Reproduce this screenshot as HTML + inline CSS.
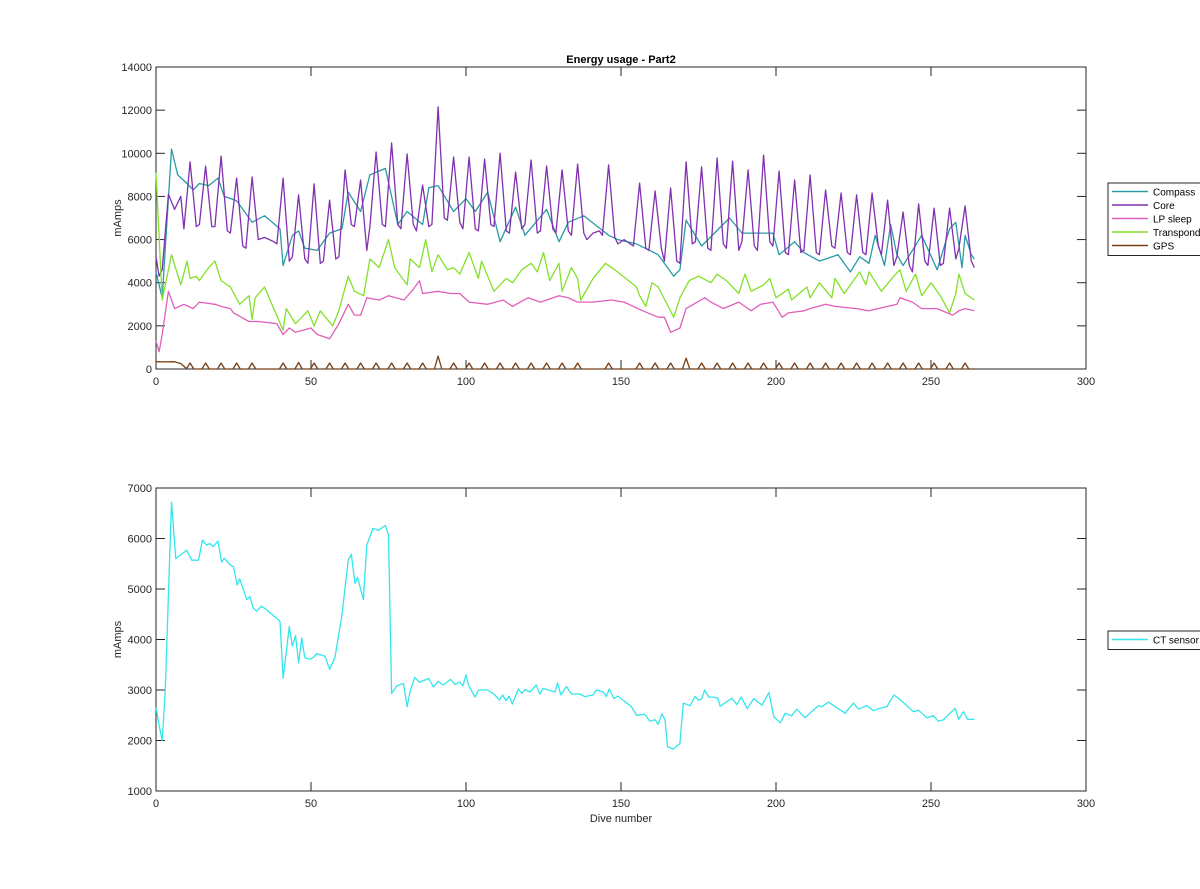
<!DOCTYPE html>
<html><head><meta charset="utf-8"><style>
body{margin:0;background:#fff;}
svg{display:block;font-family:"Liberation Sans",sans-serif;}
</style></head><body>
<svg id="fig" width="1200" height="889" viewBox="0 0 1200 889"></svg>
<script>
// ---- data ----
const coreX=[0,1,2,4,6,8,9,11,13,14,16,18,19,21,23,24,26,28,29,31,33,35,38,39,41,43,44,46,48,49,51,53,54,56,58,59,61,63,64,66,68,69,71,73,74,76,78,79,81,83,84,86,88,89,91,93,94,96,98,99,101,103,104,106,108,109,111,113,114,116,118,119,121,123,124,126,128,129,131,133,134,136,138,139,141,143,144,146,148,149,151,153,154,156,158,159,161,163,164,166,168,169,171,173,174,176,178,179,181,183,184,186,188,189,191,193,194,196,198,199,201,203,204,206,208,209,211,213,214,216,218,219,221,223,224,226,228,229,231,233,234,236,238,239,241,243,244,246,248,249,251,253,254,256,258,259,261,263,264];
const coreY=[5200,4300,4600,8100,7400,8000,6500,9600,6600,6700,9400,6600,6600,9870,6400,6300,8850,5700,5600,8900,6000,6100,5900,5800,8850,5000,5200,8070,5100,4900,8580,4900,5000,7830,5100,5200,9230,6700,6600,8760,5500,6600,10060,6700,6600,10480,6700,6500,9970,6700,6400,8530,6600,6700,12150,7000,6900,9830,6800,6500,9830,6500,6400,9730,6700,6600,10000,6400,6300,9130,6500,6700,9690,6300,6400,9410,6500,6300,9230,6400,6200,9500,6300,6000,6300,6400,6200,9460,6100,5800,6000,5800,5700,8620,5600,5500,8250,5600,5000,8390,5000,4900,9600,5800,5900,9370,5600,5500,9780,5800,5600,9640,5500,5900,9230,5700,5500,9920,5900,5700,9180,5400,5300,8760,5400,5500,9000,5400,5300,8300,5700,5600,8160,5400,5300,8070,5400,5300,8160,5700,5300,7830,4800,5200,7280,4800,4500,7650,5000,4800,7460,4800,4900,7460,5100,5600,7560,5000,4700];
const compassX=[0,2,5,7,10,12,14,17,20,22,26,31,35,40,41,44,46,48,52,56,60,62,66,69,74,78,81,86,88,91,96,100,103,107,111,116,119,126,130,133,138,146,149,155,162,167,169,171,176,185,189,194,199,201,206,209,214,220,224,227,230,232,235,237,239,241,247,252,256,258,260,261,263,264];
const compassY=[4500,3300,10200,9000,8600,8300,8600,8500,8850,8000,7800,6800,7100,6500,4800,6200,6400,5600,5500,6300,6500,8200,7300,9000,9300,6700,7300,6700,8400,8500,7300,7900,7300,8200,5900,7500,6200,7400,5900,6800,7100,6200,6000,5800,5300,4300,4600,6900,5700,7000,6300,6300,6300,5300,5900,5400,5000,5300,4500,5200,4900,6200,4800,6700,5300,4800,6200,4600,6500,6800,4700,6200,5300,5100];
const lpX=[0,1,2,4,6,9,12,14,19,21,24,25,30,33,39,41,43,45,50,52,56,59,62,64,66,68,72,75,80,83,85,86,91,95,98,101,107,112,115,120,124,130,133,136,141,147,151,157,162,164,166,169,171,177,179,183,188,192,195,199,202,204,209,211,216,219,226,230,236,239,240,244,247,252,257,259,261,264];
const lpY=[1300,800,1600,3600,2800,3000,2800,3100,3000,2900,2800,2600,2200,2200,2100,1600,1900,1700,1900,1600,1400,2100,3000,2500,2500,3300,3200,3400,3200,3700,4100,3500,3600,3500,3500,3100,3000,3200,2900,3300,3100,3400,3300,3100,3100,3200,3100,2700,2400,2400,1700,1900,2800,3300,3100,2800,3100,2700,3000,3100,2400,2600,2700,2800,3000,2900,2800,2700,2900,3000,3300,3100,2800,2800,2500,2700,2800,2700];
const trX=[0,2,5,8,10,11,13,14,17,19,21,24,27,30,31,32,35,41,42,45,49,51,53,57,59,62,64,67,69,72,75,77,81,82,85,87,89,91,94,96,98,101,104,105,109,113,115,118,121,123,125,127,130,131,134,136,137,141,145,148,155,156,158,160,162,167,169,172,175,179,181,184,188,190,192,196,198,200,204,205,210,211,214,218,219,222,227,229,230,234,238,240,242,245,247,250,253,256,258,259,261,264];
const trY=[9100,3200,5300,3900,5000,4200,4300,4100,4700,5000,4100,3800,3000,3400,2300,3300,3800,1800,2800,2100,2700,2000,2700,2000,2700,4300,3600,3400,5100,4700,6000,4700,3900,5100,4700,6000,4500,5300,4600,4700,4400,5400,4200,5000,3600,4200,4000,4600,4900,4500,5400,4100,4900,3600,4700,4200,3200,4200,4900,4600,3800,3400,2900,4000,3800,2400,3300,4100,4300,4000,4400,4100,3500,4400,3600,3900,4200,3300,3700,3200,3800,3300,4000,3300,4200,3500,4500,3900,4500,3600,4300,4600,3600,4400,3400,4000,3400,2600,3500,4400,3500,3200];
const gpsSpikeX=[11,16,21,26,31,41,46,51,56,61,66,71,76,81,86,91,96,101,106,111,116,121,126,131,136,146,156,161,166,171,176,181,186,191,196,201,206,211,216,221,226,231,236,241,246,251,256,261];
const gpsSpikeY=[280,280,280,280,280,280,300,280,280,280,280,280,280,280,280,600,280,280,280,280,280,280,280,280,280,280,280,280,280,500,280,280,280,280,280,280,280,280,280,280,280,280,280,280,280,280,280,280];
const gpsStartX=[0,3,6,8,10];
const gpsStartY=[340,330,340,250,0];
const ctX=[0,1,2,3,5,6.4,9.9,11.5,13.7,15,16.3,17.4,18.5,20,21.2,22,23.9,25,26.2,27,29.3,30.3,31.4,32.5,34,35.7,40,41,43,44,45,46,47,48,49.7,50.8,51.8,54.5,56,57.7,60,62,63,64.2,65,66.9,68,70,71.7,74,75,76,77.6,79.8,81,82,83.5,85,88,89.5,91,92.7,95,96.5,98,99,100,100.7,102.9,104,107,109,110.8,111.8,112.9,113.9,114.9,116.9,118,119,120.6,122.7,123.8,124.9,128.7,129.5,130.6,132.4,134,136.7,138.3,141,142,144.3,145.3,146.2,147.7,149,153.4,155,157.7,159.3,161,162,163.2,164.2,165,166.9,169,170.1,172.3,173.9,175,176,177,178.3,179.9,181.2,182,185.8,187.4,188.8,190.7,192.8,195.5,197.7,199.3,201.4,203,205,206.7,209.4,212,213.7,214.8,216.9,219.6,222.3,225,226.6,229.3,231.5,233.6,235.8,236.8,238.1,240.6,244.3,246,248.6,250.8,252.4,254,257.8,258.9,260.5,261.8,264];
const ctY=[2650,2300,2000,3000,6720,5600,5770,5570,5570,5970,5870,5900,5840,5950,5530,5610,5480,5440,5080,5200,4790,4850,4620,4560,4660,4590,4360,3230,4260,3870,4080,3540,4030,3640,3610,3650,3720,3670,3410,3640,4490,5570,5690,5110,5230,4790,5870,6200,6160,6260,6070,2930,3080,3130,2670,2980,3250,3150,3230,3060,3170,3100,3210,3110,3160,3080,3300,3110,2860,3000,3000,2920,2800,2900,2790,2880,2720,3020,2930,3010,2960,3100,2920,3030,2960,3140,2900,3070,2920,2920,2870,2900,3000,2960,2870,3020,2830,2880,2670,2500,2520,2380,2410,2320,2530,2410,1880,1830,1940,2740,2690,2870,2800,2820,3000,2860,2860,2840,2680,2840,2710,2860,2630,2830,2700,2950,2470,2350,2540,2490,2620,2450,2600,2690,2670,2760,2650,2540,2740,2620,2690,2590,2640,2670,2780,2900,2780,2570,2600,2450,2490,2380,2410,2640,2420,2570,2420,2420];
const xTicks=[0,50,100,150,200,250,300];
const topYTicks=[0,2000,4000,6000,8000,10000,12000,14000];
const botYTicks=[1000,2000,3000,4000,5000,6000,7000];

// ---- layout ----
const NS='http://www.w3.org/2000/svg';
const svg=document.getElementById('fig');
function mk(tag,attrs,parent){const e=document.createElementNS(NS,tag);for(const k in attrs)e.setAttribute(k,attrs[k]);(parent||svg).appendChild(e);return e;}
const X0=156,X1=1086;
function xs(v){return X0+(v-0)/(300-0)*(X1-X0);}
const topAx={y0:369,y1:67,min:0,max:14000};
const botAx={y0:791,y1:488,min:1000,max:7000};
function ys(ax,v){return ax.y0-(v-ax.min)/(ax.max-ax.min)*(ax.y0-ax.y1);}

function axes(ax,yt,name){
  const g=mk('g',{});
  
  
  const r=mk('rect',{x:X0,y:ax.y1,width:X1-X0,height:ax.y0-ax.y1,fill:'#fff',stroke:'#262626','stroke-width':1},g);
  
  
  xTicks.forEach(t=>{
    const x=xs(t);
    mk('line',{x1:x,x2:x,y1:ax.y0,y2:ax.y0-9,stroke:'#262626'},g);
    mk('line',{x1:x,x2:x,y1:ax.y1,y2:ax.y1+9,stroke:'#262626'},g);
    const tx=mk('text',{x:x,y:ax.y0+16,'text-anchor':'middle','font-size':11,fill:'#262626'},g);
    tx.textContent=t;
    
    
  });
  yt.forEach(t=>{
    const y=ys(ax,t);
    mk('line',{x1:X0,x2:X0+9,y1:y,y2:y,stroke:'#262626'},g);
    mk('line',{x1:X1,x2:X1-9,y1:y,y2:y,stroke:'#262626'},g);
    const tx=mk('text',{x:X0-4,y:y+4,'text-anchor':'end','font-size':11,fill:'#262626'},g);
    tx.textContent=t;
    
    
  });
  const yl=mk('text',{x:0,y:0,'text-anchor':'middle','font-size':11,fill:'#262626',transform:`translate(121,${(ax.y0+ax.y1)/2}) rotate(-90)`},g);
  yl.textContent='mAmps';
  
  
}
function line(ax,xa,ya,color,name){
  const n=Math.min(xa.length,ya.length);
  const pts=[];
  for(let i=0;i<n;i++)pts.push(xs(xa[i]).toFixed(1)+','+ys(ax,ya[i]).toFixed(1));
  const pl=mk('polyline',{points:pts.join(' '),fill:'none',stroke:color,'stroke-width':1.3,'stroke-linejoin':'round'});
  
  
}
axes(topAx,topYTicks,'top-axes');
axes(botAx,botYTicks,'bottom-axes');

const C={compass:'#2a9aa6',core:'#8030b0',lp:'#e060b8',tr:'#84e02a',gps:'#7a3e14',ct:'#33e6ec'};
line(topAx,compassX,compassY,C.compass,'compass-line');
line(topAx,coreX,coreY,C.core,'core-line');
line(topAx,lpX,lpY,C.lp,'lp-sleep-line');
line(topAx,trX,trY,C.tr,'transponder-line');
const gx=gpsStartX.slice(), gy=gpsStartY.slice();
gpsSpikeX.forEach((s,i)=>{gx.push(s-1.2,s,s+1.2);gy.push(0,gpsSpikeY[i],0);});
gx.push(264);gy.push(0);
line(topAx,gx,gy,C.gps,'gps-line');
line(botAx,ctX,ctY,C.ct,'ct-sensor-line');

const tt=mk('text',{x:621,y:63,'text-anchor':'middle','font-size':11,'font-weight':'bold',fill:'#000'});
tt.textContent='Energy usage - Part2';


const xl=mk('text',{x:621,y:822,'text-anchor':'middle','font-size':11,fill:'#262626'});
xl.textContent='Dive number';



function legend(y0,items,name){
  const g=mk('g',{});
  
  
  mk('rect',{x:1108,y:y0,width:100,height:items.length*13.5+5,fill:'#fff',stroke:'#262626','stroke-width':1},g);
  items.forEach((it,i)=>{
    const y=y0+8.5+i*13.5;
    mk('line',{x1:1112,x2:1148,y1:y,y2:y,stroke:it[1],'stroke-width':1.6},g);
    const t=mk('text',{x:1153,y:y+4,'font-size':10,fill:'#000'},g);
    t.textContent=it[0];
    
    
  });
}
legend(183,[['Compass',C.compass],['Core',C.core],['LP sleep',C.lp],['Transponder',C.tr],['GPS',C.gps]],'top-legend');
legend(631,[['CT sensor',C.ct]],'bottom-legend');
</script>
</body></html>
